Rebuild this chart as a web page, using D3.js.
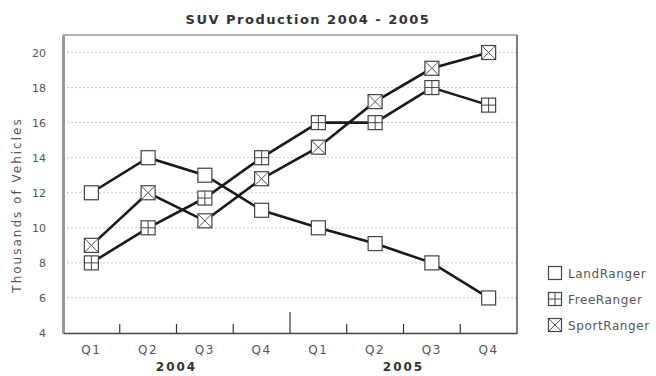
<!DOCTYPE html>
<html>
<head>
<meta charset="utf-8">
<script src="https://cdn.jsdelivr.net/npm/d3@7"></script>
<style>
  body { margin: 0; background: #fff; }
  text { font-family: "DejaVu Sans", Verdana, sans-serif; }
</style>
</head>
<body>
<div id="chart"></div>
<script>
// data
var quarters = ["Q1", "Q2", "Q3", "Q4", "Q1", "Q2", "Q3", "Q4"]
var years = ["2004", "2005"]
var landRanger = [12, 14, 13, 11, 10, 9.1, 8, 6]
var freeRanger = [8, 10, 11.7, 14, 16, 16, 18, 17]
var sportRanger = [9, 12, 10.4, 12.8, 14.6, 17.2, 19.1, 20]
var yTicks = [4, 6, 8, 10, 12, 14, 16, 18, 20]

var series = [
  { name: "LandRanger", values: landRanger, mark: "none" },
  { name: "FreeRanger", values: freeRanger, mark: "plus" },
  { name: "SportRanger", values: sportRanger, mark: "cross" }
]

var width = 656
var height = 376
var margin = { top: 35, right: 139, bottom: 43, left: 63 }
var w = width - margin.left - margin.right
var h = height - margin.top - margin.bottom

var svg = d3.select("#chart").append("svg")
  .attr("width", width)
  .attr("height", height)

var x = d3.scaleBand()
  .domain(d3.range(quarters.length))
  .range([0, w])

var y = d3.scaleLinear()
  .domain([4, 21])
  .range([h, 0])

var g = svg.append("g").attr("transform", "translate(" + margin.left + "," + margin.top + ")")

// gridlines
g.append("g")
  .selectAll("line")
  .data(yTicks.filter(function(d) { return d > 4 }))
  .enter().append("line")
    .attr("x1", 0)
    .attr("x2", w)
    .attr("y1", function(d) { return y(d) })
    .attr("y2", function(d) { return y(d) })
    .attr("stroke", "#c8c8c8")
    .attr("stroke-dasharray", "2,2")

// frame
g.append("line").attr("x1", 0).attr("x2", w).attr("y1", 0).attr("y2", 0)
  .attr("stroke", "#999").attr("stroke-width", 1.5)
g.append("line").attr("x1", w).attr("x2", w).attr("y1", 0).attr("y2", h)
  .attr("stroke", "#555").attr("stroke-width", 1.5)

// y axis
var yAxis = g.append("g")
  .call(d3.axisLeft(y).tickValues(yTicks).tickSize(0).tickPadding(17))
yAxis.select(".domain").attr("stroke", "#999").attr("stroke-width", 3)
yAxis.selectAll("text").attr("font-size", 11).attr("fill", "#555").attr("font-family", "DejaVu Sans")

// x axis
var xAxis = g.append("g")
  .attr("transform", "translate(0," + h + ")")
  .call(d3.axisBottom(x).tickFormat(function(i) { return quarters[i] }).tickSize(0).tickPadding(12))
xAxis.select(".domain").attr("stroke", "#444").attr("stroke-width", 1.5)
xAxis.selectAll("text").attr("font-size", 12).attr("letter-spacing", 1.5)
  .attr("fill", "#555").attr("font-family", "DejaVu Sans")

// separator ticks between quarters
g.append("g")
  .selectAll("line")
  .data(d3.range(1, quarters.length))
  .enter().append("line")
    .attr("x1", function(i) { return x(i) })
    .attr("x2", function(i) { return x(i) })
    .attr("y1", h)
    .attr("y2", function(i) { return i == 4 ? h - 21 : h - 9 })
    .attr("stroke", "#333")
    .attr("stroke-width", 1.2)

// year labels
g.append("g")
  .selectAll("text")
  .data(years)
  .enter().append("text")
    .attr("x", function(d, i) { return (x(i * 4) + x(i * 4 + 3) + x.bandwidth()) / 2 })
    .attr("y", h + 38)
    .attr("text-anchor", "middle")
    .attr("font-size", 12)
    .attr("letter-spacing", 2)
    .attr("font-weight", "bold")
    .attr("fill", "#333")
    .text(function(d) { return d })

// y label
svg.append("text")
  .attr("transform", "translate(21,205) rotate(-90)")
  .attr("text-anchor", "middle")
  .attr("font-size", 12)
  .attr("letter-spacing", 2)
  .attr("fill", "#555")
  .text("Thousands of Vehicles")

// title
svg.append("text")
  .attr("x", 308)
  .attr("y", 24)
  .attr("text-anchor", "middle")
  .attr("font-size", 13)
  .attr("letter-spacing", 1.5)
  .attr("font-weight", "bold")
  .attr("fill", "#333")
  .text("SUV Production 2004 - 2005")

var line = d3.line()
  .x(function(d, i) { return x(i) + x.bandwidth() / 2 })
  .y(function(d) { return y(d) })

function drawMarker(sel, kind, s) {
  var r = s / 2
  sel.append("rect")
    .attr("x", -r).attr("y", -r).attr("width", s).attr("height", s)
    .attr("fill", "#fff").attr("stroke", "#444").attr("stroke-width", 1.2)
  if (kind == "plus") {
    sel.append("path").attr("d", "M0," + -r + "V" + r + "M" + -r + ",0H" + r)
      .attr("stroke", "#444").attr("stroke-width", 1)
  }
  if (kind == "cross") {
    sel.append("path").attr("d", "M" + -r + "," + -r + "L" + r + "," + r + "M" + r + "," + -r + "L" + -r + "," + r)
      .attr("stroke", "#555").attr("stroke-width", 1)
  }
}

series.forEach(function(s) {
  g.append("path")
    .datum(s.values)
    .attr("fill", "none")
    .attr("stroke", "#1a1a1a")
    .attr("stroke-width", 2.6)
    .attr("d", line)
})

series.forEach(function(s) {
  g.selectAll(null)
    .data(s.values)
    .enter().append("g")
      .attr("transform", function(d, i) { return "translate(" + (x(i) + x.bandwidth() / 2) + "," + y(d) + ")" })
      .each(function() { drawMarker(d3.select(this), s.mark, 14) })
})

// legend
var legend = svg.append("g").attr("transform", "translate(555,273)")
series.forEach(function(s, i) {
  var row = legend.append("g").attr("transform", "translate(0," + i * 26 + ")")
  drawMarker(row, s.mark, 13)
  row.append("text")
    .attr("x", 13)
    .attr("y", 4.5)
    .attr("font-size", 12)
    .attr("letter-spacing", 0.6)
    .attr("fill", "#555")
    .text(s.name)
})
</script>
</body>
</html>
